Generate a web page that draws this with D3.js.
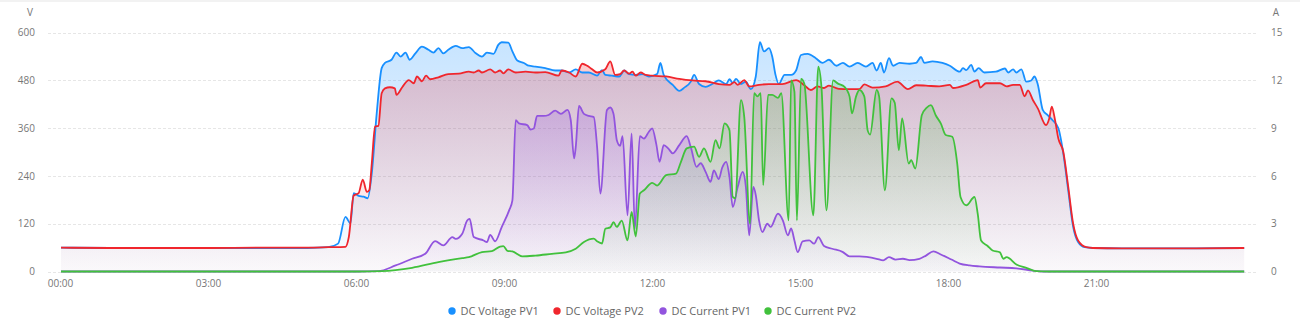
<!DOCTYPE html>
<html><head><meta charset="utf-8">
<script src="https://cdn.jsdelivr.net/npm/d3@7"></script>
<style>body{margin:0;background:#fff;font-family:"Open Sans","Noto Sans",sans-serif}</style>
</head><body><svg id="c" width="1300" height="329"></svg>
<script>
const xTickLabels = ["00:00","03:00","06:00","09:00","12:00","15:00","18:00","21:00"];
const voltTicks = [0,120,240,360,480,600];
const ampTicks = [0,3,6,9,12,15];
const seriesNames = ["DC Voltage PV1","DC Voltage PV2","DC Current PV1","DC Current PV2"];
const seriesColors = ["#1890ff","#f0262d","#9254de","#41c13c"];

const pv1Voltage = [["00:00",60],["01:00",59],["02:00",59],["03:00",59],["04:00",59],["05:00",59],["05:25",61],["05:37",70],["05:46",137],["05:52",121],["05:56",197],["06:02",190],["06:08",188],["06:13",184],["06:18",247],["06:24",398],["06:30",511],["06:34",524],["06:42",532],["06:48",550],["06:53",540],["06:59",550],["07:04",532],["07:11",548],["07:19",565],["07:27",557],["07:33",550],["07:39",561],["07:45",548],["07:51",557],["08:00",567],["08:08",561],["08:16",564],["08:24",549],["08:32",540],["08:38",550],["08:46",547],["08:52",570],["08:56",576],["09:04",575],["09:09",553],["09:15",530],["09:23",524],["09:29",517],["09:37",515],["09:49",511],["10:01",505],["10:09",505],["10:18",500],["10:26",508],["10:34",500],["10:42",500],["10:52",492],["10:58",506],["11:02",494],["11:10",492],["11:19",490],["11:25",505],["11:31",496],["11:39",494],["11:47",496],["11:55",490],["12:05",496],["12:09",524],["12:13",494],["12:24",469],["12:32",454],["12:38",462],["12:46",477],["12:50",494],["12:56",471],["13:04",464],["13:12",471],["13:20",480],["13:29",471],["13:33",483],["13:37",474],["13:41",484],["13:47",471],["13:53",477],["13:59",458],["14:05",490],["14:10",576],["14:15",553],["14:21",561],["14:25",540],["14:29",494],["14:33",471],["14:40",494],["14:48",494],["14:54",505],["15:00",544],["15:08",547],["15:18",536],["15:26",524],["15:34",532],["15:43",517],["15:51",524],["15:59",515],["16:09",524],["16:19",515],["16:27",524],["16:32",505],["16:37",524],["16:41",500],["16:47",536],["16:52",517],["17:00",524],["17:12",522],["17:20",524],["17:26",539],["17:30",524],["17:40",528],["17:52",524],["18:01",517],["18:13",502],["18:17",511],["18:21",506],["18:27",519],["18:31",502],["18:36",511],["18:43",500],["18:57",502],["19:08",510],["19:12",500],["19:18",508],["19:22",500],["19:28",508],["19:34",477],["19:40",480],["19:44",490],["19:48",470],["19:54",406],["20:00",393],["20:06",380],["20:13",360],["20:19",297],["20:25",204],["20:31",112],["20:37",74],["20:45",61],["20:55",59],["21:30",58],["22:00",58],["23:00",58],["23:59",59]];

const pv2Voltage = [["00:00",60],["01:00",59],["02:00",59],["03:00",59],["04:00",60],["05:00",60],["05:25",61],["05:46",62],["05:50",86],["05:56",191],["06:02",197],["06:07",231],["06:12",200],["06:15",205],["06:18",272],["06:22",364],["06:26",366],["06:30",448],["06:34",460],["06:40",463],["06:46",460],["06:48",444],["06:55",463],["07:03",481],["07:09",473],["07:13",490],["07:19",478],["07:24",492],["07:29",483],["07:39",488],["07:51",496],["08:04",497],["08:16",502],["08:22",500],["08:28",505],["08:32",500],["08:42",508],["08:48",500],["08:54",505],["08:58",498],["09:04",508],["09:13",500],["09:25",502],["09:37",500],["09:49",501],["10:05",492],["10:09",505],["10:18",500],["10:26",490],["10:34",522],["10:40",517],["10:46",508],["10:52",500],["11:02",508],["11:08",528],["11:14",494],["11:20",496],["11:25",505],["11:31",497],["11:35",502],["11:39",492],["11:45",500],["11:51",494],["11:59",492],["12:16",490],["12:32",484],["12:48",480],["13:04",478],["13:20",471],["13:33",469],["13:39",476],["13:43",469],["13:51",481],["13:57",465],["14:09",469],["14:21",471],["14:37",471],["14:54",481],["15:04",468],["15:12",456],["15:20",465],["15:28",461],["15:34",467],["15:46",459],["15:59",458],["16:11",458],["16:17",470],["16:27",462],["16:43",465],["16:57",477],["17:10",458],["17:20",468],["17:32",467],["17:48",465],["18:01",469],["18:05",461],["18:21",469],["18:35",481],["18:38",462],["18:45",473],["19:02",473],["19:10",465],["19:18",469],["19:26",469],["19:32",440],["19:36",455],["19:42",431],["19:48",410],["19:58",368],["20:02",385],["20:05",414],["20:09",380],["20:13",334],["20:19",301],["20:25",213],["20:31",120],["20:37",78],["20:47",61],["20:55",59],["21:30",58],["22:00",58],["23:00",58],["23:59",59]];

const pv1Current = [["00:00",0],["03:00",0],["06:00",0],["06:26",0.02],["06:47",0.38],["07:07",0.8],["07:23",1.11],["07:35",1.91],["07:45",1.64],["07:56",2.16],["08:00",2.05],["08:08",2.37],["08:14",3.2],["08:17",3.3],["08:22",2.16],["08:34",1.95],["08:38",1.85],["08:42",2.3],["08:48",1.9],["08:56",2.79],["09:05",3.84],["09:09",4.47],["09:13",9.51],["09:17",9.3],["09:27",9.2],["09:31",8.92],["09:35",8.98],["09:39",9.77],["09:47",9.77],["09:53",9.83],["10:01",10.1],["10:08",9.9],["10:16",10.15],["10:20",9.5],["10:24",7.1],["10:26",7.8],["10:30",10.4],["10:36",9.9],["10:42",9.77],["10:48",9.7],["10:52",7.83],["10:56",4.9],["11:04",10.14],["11:08",10.3],["11:12",9.9],["11:16",8.25],["11:20",7.9],["11:23",8.5],["11:29",3.53],["11:34",8.67],["11:38",2.69],["11:44",8.5],["11:49",8.35],["11:55",8.78],["11:59",8.99],["12:04",8.0],["12:08",6.89],["12:13",7.94],["12:19",7.7],["12:24",7.42],["12:32",7.94],["12:41",8.5],["12:46",7.8],["12:53",6.57],["12:58",6.8],["13:04",6.26],["13:10",5.63],["13:14",6.35],["13:20",5.8],["13:24",6.5],["13:29",6.89],["13:33",5.94],["13:37",4.05],["13:43",5.3],["13:49",6.26],["13:53",5.3],["13:57",2.27],["14:02",5.31],["14:05",4.8],["14:09",3.19],["14:13",2.48],["14:19",3.0],["14:23",2.8],["14:32",3.63],["14:38",3.2],["14:44",2.27],["14:48",2.7],["14:52",1.95],["14:56",1.22],["15:02",1.9],["15:10",1.95],["15:16",1.75],["15:21",2.16],["15:28",1.6],["15:38",1.43],["15:51",1.22],["15:59",0.95],["16:11",0.95],["16:32",0.8],["16:40",0.7],["16:47",0.9],["16:55",0.75],["17:04",0.8],["17:12",0.72],["17:24",0.8],["17:32",1.0],["17:41",1.26],["17:50",1.07],["18:03",0.75],["18:13",0.5],["18:25",0.38],["18:37",0.32],["19:02",0.25],["19:22",0.2],["19:42",0.06],["19:54",0],["21:00",0],["23:59",0]];

const pv2Current = [["00:00",0],["03:00",0],["06:00",0],["06:30",0.02],["07:07",0.23],["07:39",0.59],["08:08",0.84],["08:16",0.9],["08:32",1.22],["08:44",1.28],["08:54",1.57],["08:58",1.6],["09:03",1.3],["09:09",1.26],["09:21",0.95],["09:37",1.0],["09:57",1.11],["10:14",1.2],["10:26",1.43],["10:36",1.85],["10:48",2.06],["10:52",1.9],["10:58",1.76],["11:02",2.69],["11:08",2.77],["11:12",3.1],["11:16",2.8],["11:22",3.2],["11:29",1.95],["11:34",3.74],["11:39",2.2],["11:44",4.9],["11:49",5.1],["11:59",5.57],["12:05",5.4],["12:16",6.05],["12:28",6.15],["12:34",6.89],["12:41",7.73],["12:50",7.84],["12:56",7.2],["13:02",7.73],["13:10",6.89],["13:16",8.25],["13:21",7.73],["13:27",9.3],["13:33",8.88],["13:37",4.68],["13:40",4.6],["13:47",10.77],["13:51",9.7],["13:58",3.0],["14:03",11.2],["14:07",11.0],["14:11",11.2],["14:14",5.42],["14:20",11.1],["14:25",11.1],["14:32",10.9],["14:36",11.2],["14:45",3.21],["14:48",12.0],["14:52",11.3],["14:55",3.21],["15:00",12.1],["15:04",11.8],["15:15",3.53],["15:21",12.87],["15:25",11.5],["15:31",3.84],["15:39",12.0],["15:45",11.8],["15:53",11.6],["15:59",11.0],["16:02",9.93],["16:07",11.0],["16:11",11.4],["16:17",11.0],["16:21",8.88],["16:24",8.6],["16:32",11.4],["16:35",11.0],["16:42",5.1],["16:50",10.88],["16:54",10.6],["16:59",7.62],["17:03",9.62],["17:11",6.78],["17:14",7.0],["17:19",6.47],["17:27",9.83],["17:33",10.3],["17:38",10.45],["17:44",9.8],["17:50",9.3],["17:56",8.57],["18:04",8.46],["18:10",6.78],["18:14",4.68],["18:21",4.16],["18:31",4.68],["18:35",3.6],["18:39",1.95],["18:47",1.6],["18:53",1.32],["19:02",1.2],["19:06",0.8],["19:10",0.9],["19:22",0.44],["19:34",0.23],["19:46",0.02],["20:02",0],["21:00",0],["23:59",0]];

const toMin = s => { const [h,m] = s.split(":").map(Number); return h*60+m; };
const svg = d3.select("#c");
svg.append("rect").attr("x",0).attr("y",0).attr("width",1300).attr("height",2).attr("fill","#f2f2f2");

const x = d3.scaleLinear().domain([0,1440]).range([61,1245]);
const yV = d3.scaleLinear().domain([0,600]).range([271.5,32.7]);
const yA = d3.scaleLinear().domain([0,15]).range([271.5,32.7]);
const gridL = 48, gridR = 1258;

// grid
svg.append("g").selectAll("line").data(voltTicks).join("line")
  .attr("x1",gridL).attr("x2",gridR)
  .attr("y1",d=>Math.round(yV(d))+0.5).attr("y2",d=>Math.round(yV(d))+0.5)
  .attr("stroke","#e6e6e6").attr("stroke-dasharray","3,2").attr("stroke-width",1);

// left axis
const leftAxis = d3.axisLeft(yV).tickValues(voltTicks).tickSize(0).tickPadding(0);
const gl = svg.append("g").attr("transform","translate(35,0)").call(leftAxis);
gl.select(".domain").remove();
gl.selectAll("text").attr("fill","#777").style("font-size","10px").style("font-family","'Open Sans',sans-serif");
// right axis
const rightAxis = d3.axisRight(yA).tickValues(ampTicks).tickSize(0).tickPadding(0);
const gr = svg.append("g").attr("transform","translate(1271,0)").call(rightAxis);
gr.select(".domain").remove();
gr.selectAll("text").attr("fill","#777").style("font-size","10px").style("font-family","'Open Sans',sans-serif");
// bottom axis
const bottomAxis = d3.axisBottom(x).tickValues(xTickLabels.map(toMin)).tickFormat((d,i)=>xTickLabels[i]).tickSize(0).tickPadding(0);
const gb = svg.append("g").attr("transform","translate(-1,280)").call(bottomAxis);
gb.select(".domain").remove();
gb.selectAll("text").attr("fill","#777").style("font-size","10px").style("font-family","'Open Sans',sans-serif");

svg.append("text").attr("x",30).attr("y",16).attr("text-anchor","middle").attr("fill","#777").style("font-size","10px").text("V");
svg.append("text").attr("x",1276).attr("y",16).attr("text-anchor","middle").attr("fill","#777").style("font-size","10px").text("A");

// gradients
const defs = svg.append("defs");
seriesColors.forEach((c,i)=>{
  const g = defs.append("linearGradient").attr("id","g"+i).attr("x1",0).attr("y1",0).attr("x2",0).attr("y2",1);
  g.append("stop").attr("offset","0").attr("stop-color",c).attr("stop-opacity",0.24);
  g.append("stop").attr("offset","1").attr("stop-color",c).attr("stop-opacity",0.02);
});

const series = [
  {data:pv1Voltage, y:yV},
  {data:pv2Voltage, y:yV},
  {data:pv1Current, y:yA},
  {data:pv2Current, y:yA}
];
series.forEach((s,i)=>{
  const pts = s.data.map(d=>[toMin(d[0]), d[1]]);
  const area = d3.area().x(d=>x(d[0])).y0(s.y(0)).y1(d=>s.y(d[1])).curve(d3.curveMonotoneX);
  svg.append("path").datum(pts).attr("d",area).attr("fill",`url(#g${i})`);
});
series.forEach((s,i)=>{
  const pts = s.data.map(d=>[toMin(d[0]), d[1]]);
  const line = d3.line().x(d=>x(d[0])).y(d=>s.y(d[1])).curve(d3.curveMonotoneX);
  svg.append("path").datum(pts).attr("d",line).attr("fill","none").attr("stroke",seriesColors[i]).attr("stroke-width",1.8).attr("stroke-linejoin","round");
});

// legend
const legendX = [452,557,663,768];
const lg = svg.append("g");
seriesNames.forEach((n,i)=>{
  lg.append("circle").attr("cx",legendX[i]).attr("cy",311).attr("r",3.7).attr("fill",seriesColors[i]);
  lg.append("text").attr("x",legendX[i]+8.5).attr("y",314.8).attr("fill","#666").style("font-size","11px").text(n);
});
</script></body></html>
